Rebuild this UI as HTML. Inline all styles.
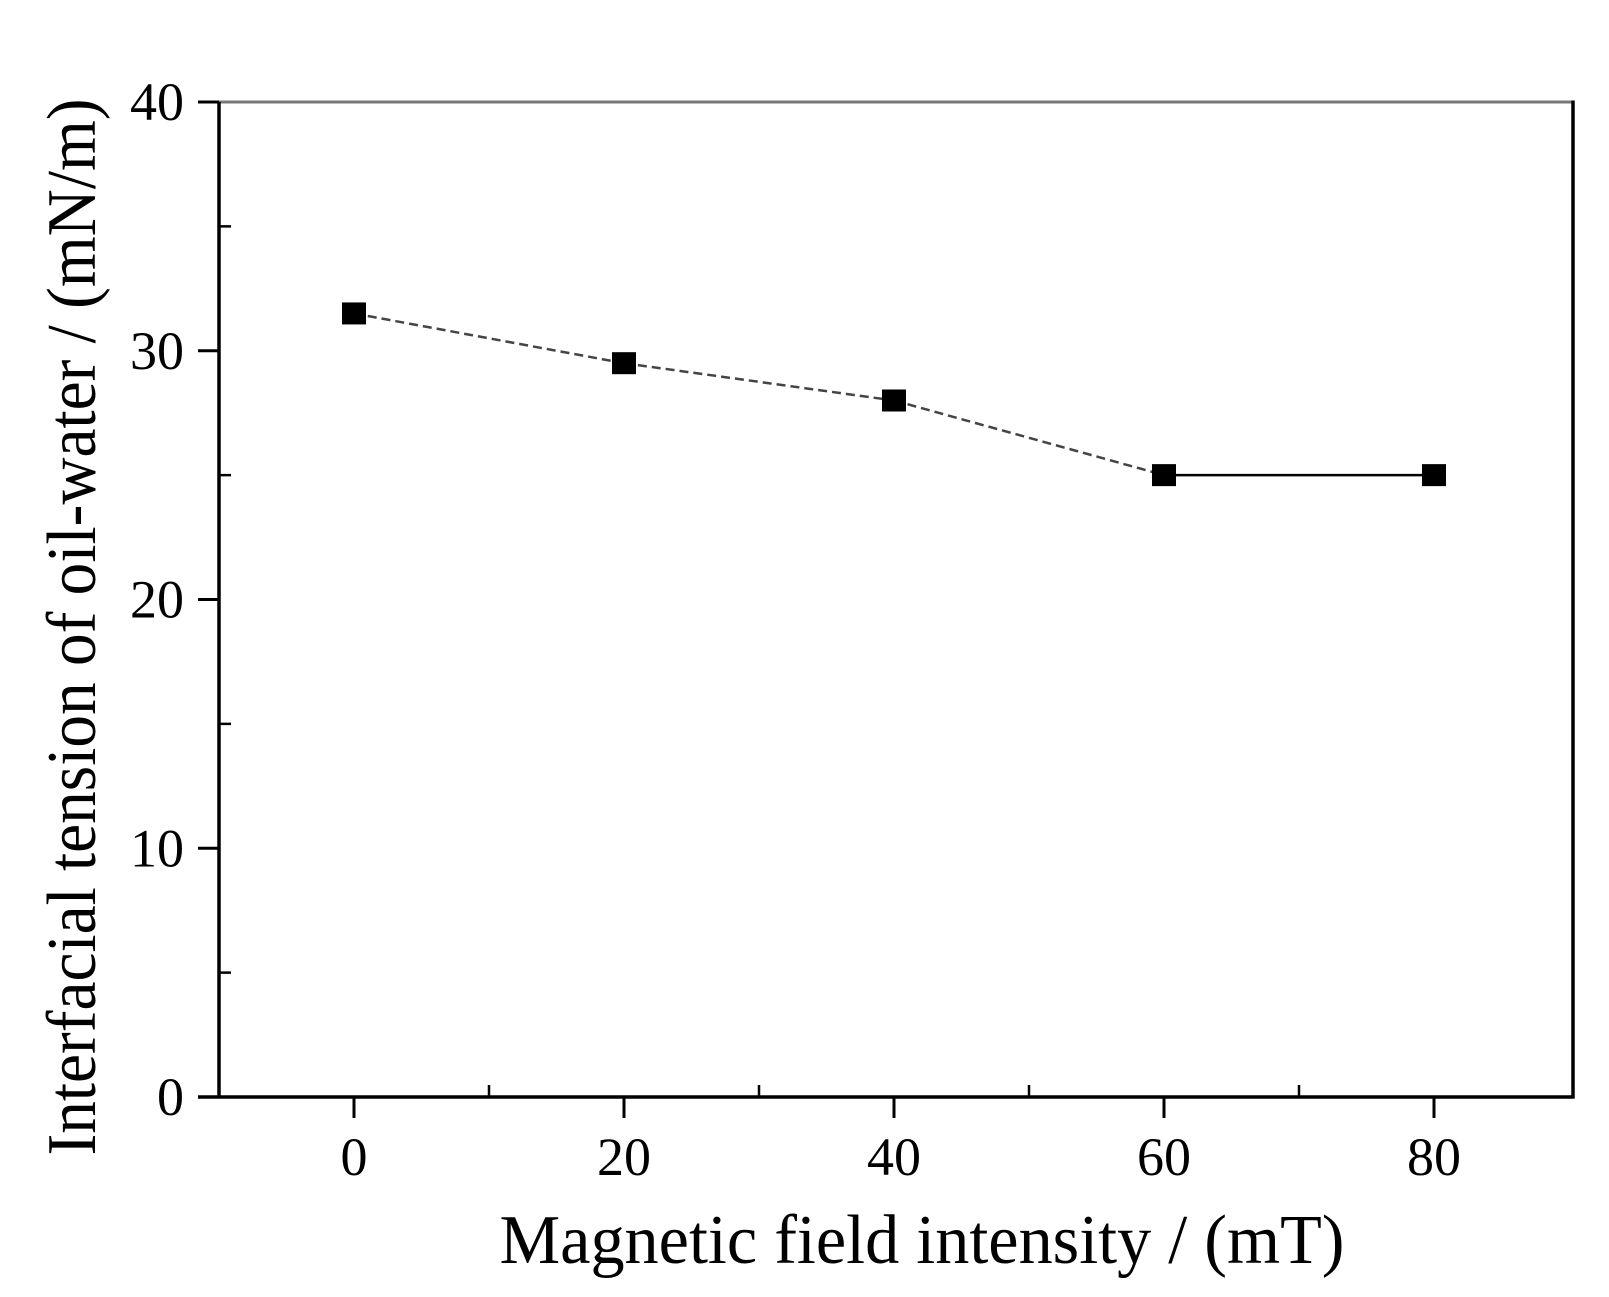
<!DOCTYPE html>
<html><head><meta charset="utf-8"><style>
html,body{margin:0;padding:0;background:#fff;}
svg{display:block;font-family:"Liberation Serif",serif;}
</style></head><body>
<svg id="chart" width="1609" height="1297" viewBox="0 0 1609 1297">
<g id="axes"></g>
<g id="series"></g>
<text x="922" y="1263" font-size="70" text-anchor="middle" textLength="845" lengthAdjust="spacingAndGlyphs">Magnetic field intensity / (mT)</text>
<text transform="translate(95,627) rotate(-90)" font-size="70" text-anchor="middle" textLength="1057" lengthAdjust="spacingAndGlyphs">Interfacial tension of oil-water / (mN/m)</text>
</svg>
<script>
const categories = [0, 20, 40, 60, 80];
const tensionValues = [31.5, 29.5, 28, 25, 25];
const xTickLabels = [0, 20, 40, 60, 80];
const yTickLabels = [0, 10, 20, 30, 40];
const xMinorTicks = [10, 30, 50, 70];
const yMinorTicks = [5, 15, 25, 35];

const L = 219, R = 1573, T = 102, B = 1097;
const yMin = 0, yMax = 40;
function xs(v){ return 354 + (v - 0) * 270 / 20; }
function ys(v){ return B - (v - yMin) * (B - T) / (yMax - yMin); }

const NS = "http://www.w3.org/2000/svg";
function mk(tag, attrs, parent){
  const e = document.createElementNS(NS, tag);
  for (const k in attrs) e.setAttribute(k, attrs[k]);
  parent.appendChild(e);
  return e;
}
const axes = document.getElementById('axes');
const series = document.getElementById('series');

let e;
e = mk('line', {x1:198, y1:T, x2:R+1.5, y2:T, stroke:'#777', 'stroke-width':3}, axes);


e = mk('line', {x1:198, y1:B, x2:R+1.5, y2:B, stroke:'#000', 'stroke-width':3.5}, axes);


e = mk('line', {x1:L, y1:T, x2:L, y2:B, stroke:'#000', 'stroke-width':3.5}, axes);


e = mk('line', {x1:R, y1:T-1.5, x2:R, y2:B+1.5, stroke:'#000', 'stroke-width':3.5}, axes);



xTickLabels.forEach(v => {
  const t = mk('line', {x1:xs(v), y1:B, x2:xs(v), y2:B+21, stroke:'#000', 'stroke-width':3}, axes);
  
  
  const l = mk('text', {x:xs(v), y:1175, 'font-size':54, 'text-anchor':'middle'}, axes);
  l.textContent = v;
  
  
});
xMinorTicks.forEach(v => {
  const t = mk('line', {x1:xs(v), y1:B, x2:xs(v), y2:B-12, stroke:'#000', 'stroke-width':2.5}, axes);
  
  
});
yTickLabels.forEach(v => {
  const t = mk('line', {x1:198, y1:ys(v), x2:L, y2:ys(v), stroke:'#000', 'stroke-width':3}, axes);
  
  
  const l = mk('text', {x:184, y:ys(v)+18, 'font-size':54, 'text-anchor':'end'}, axes);
  l.textContent = v;
  
  
});
yMinorTicks.forEach(v => {
  const t = mk('line', {x1:L, y1:ys(v), x2:L+12, y2:ys(v), stroke:'#000', 'stroke-width':2.5}, axes);
  
  
});

for (let i = 0; i < categories.length - 1; i++) {
  const dashed = i < 3;
  const seg = mk('line', {x1:xs(categories[i]), y1:ys(tensionValues[i]), x2:xs(categories[i+1]), y2:ys(tensionValues[i+1]),
    stroke: dashed ? '#444' : '#000', 'stroke-width': 2.5, 'stroke-dasharray': dashed ? '9 5' : 'none'}, series);
  
  
}
categories.forEach((c, i) => {
  const m = mk('rect', {x:xs(c)-12, y:ys(tensionValues[i])-11, width:24, height:22, fill:'#000'}, series);
  
  
});
</script>
</body></html>
